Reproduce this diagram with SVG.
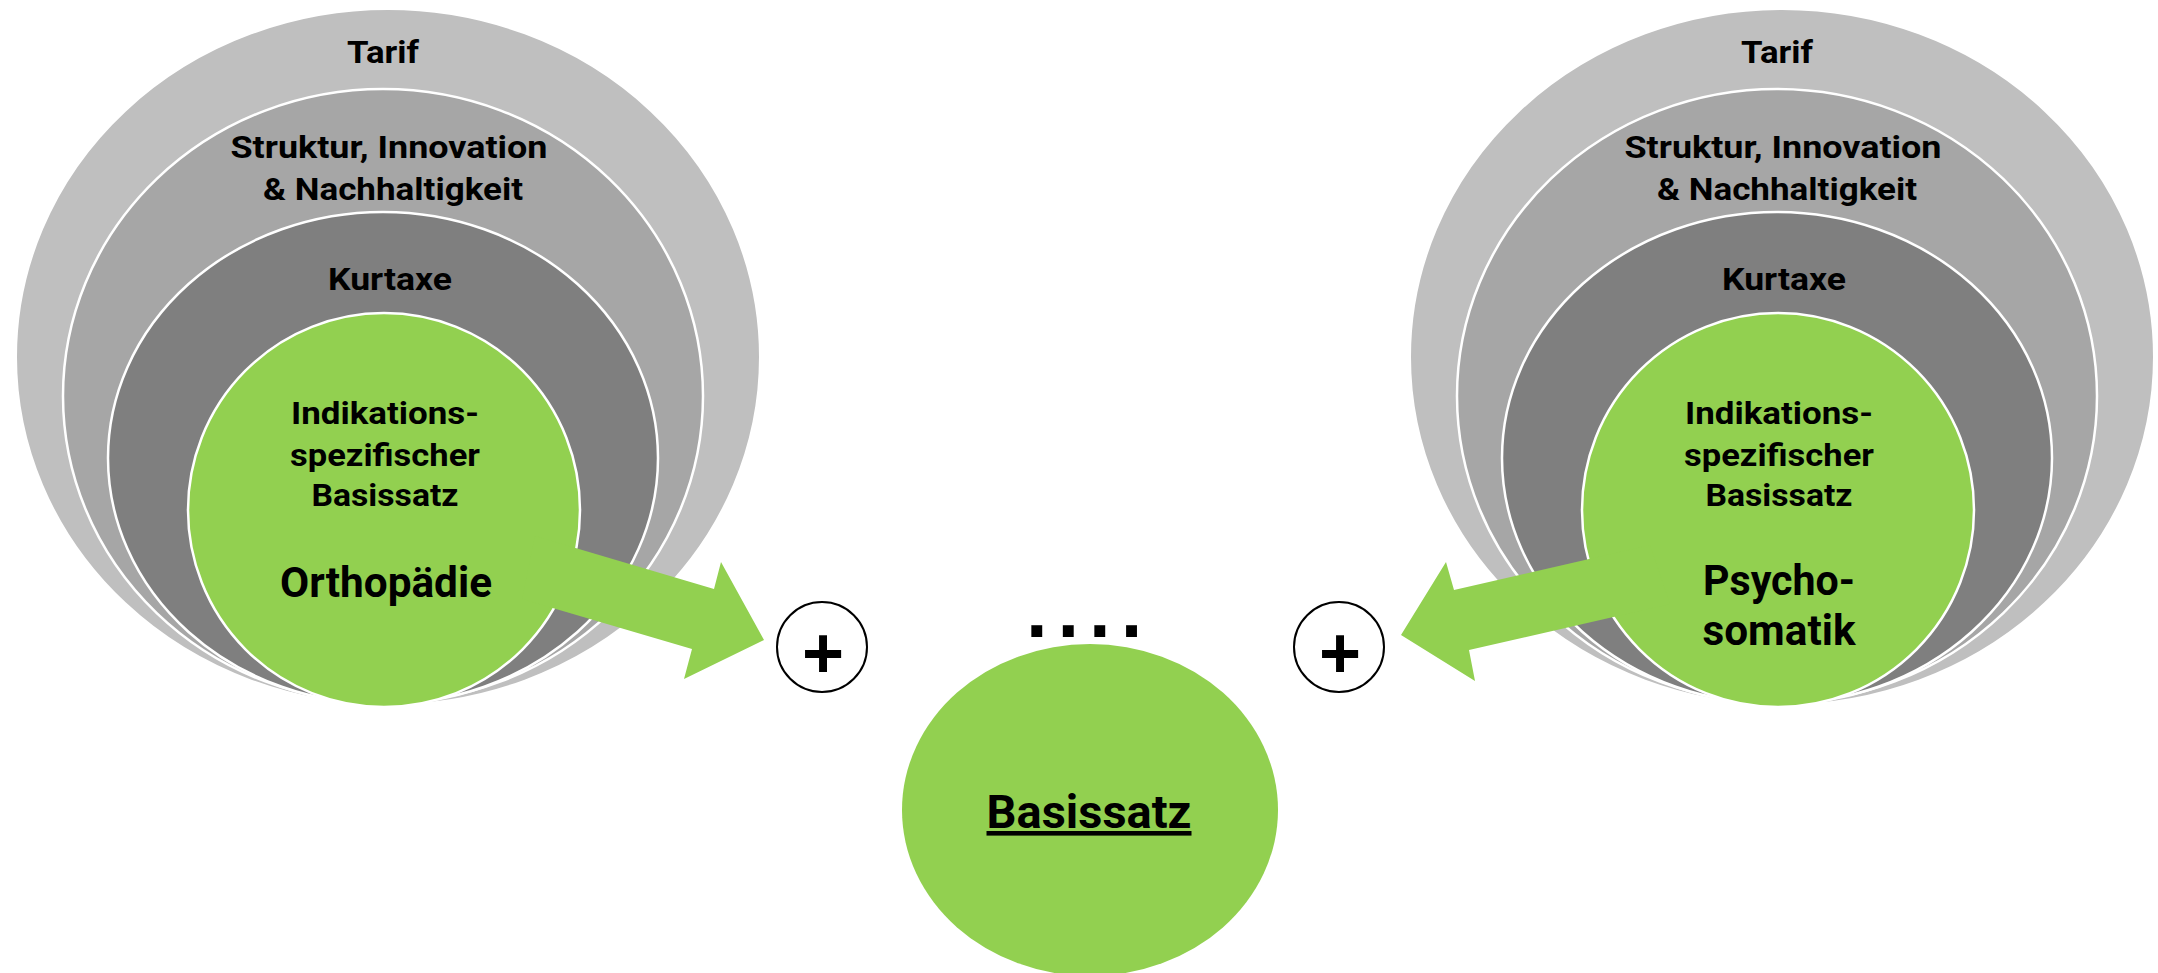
<svg xmlns="http://www.w3.org/2000/svg" width="2158" height="973" viewBox="0 0 2158 973">
<style>
.l1{fill:#BFBFBF;stroke:#FFFFFF;stroke-width:2}
.l2{fill:#A6A6A6;stroke:#FFFFFF;stroke-width:2.5}
.l3{fill:#7F7F7F;stroke:#FFFFFF;stroke-width:2.5}
.g{fill:#92D050;stroke:#FFFFFF;stroke-width:2.5}
.gb{fill:#92D050}
.t{font-family:Roboto,"Liberation Sans",sans-serif;font-weight:bold;fill:#000;text-anchor:middle;font-size:32px}
.tb{font-family:Roboto,"Liberation Sans",sans-serif;font-weight:bold;fill:#000;text-anchor:middle;font-size:42px}
.plus{font-family:"Liberation Sans",Arial,sans-serif;font-weight:bold;fill:#000;text-anchor:middle;font-size:72px}
.pc{fill:#FFFFFF;stroke:#000;stroke-width:2}
.arrow{fill:#92D050}
</style>
<rect width="2158" height="973" fill="#FFFFFF"/>
<g id="left-stack">
  <ellipse class="l1" cx="388" cy="357" rx="372" ry="348"/>
  <ellipse class="l2" cx="383" cy="396" rx="320" ry="307"/>
  <ellipse class="l3" cx="383" cy="458" rx="275" ry="246"/>
  <ellipse class="g" cx="384" cy="510" rx="196" ry="197"/>
  <text class="t" x="383" y="63" textLength="72" lengthAdjust="spacingAndGlyphs">Tarif</text>
  <text class="t" x="389" y="158" textLength="317" lengthAdjust="spacingAndGlyphs">Struktur, Innovation</text>
  <text class="t" x="393" y="200" textLength="260" lengthAdjust="spacingAndGlyphs">&amp; Nachhaltigkeit</text>
  <text class="t" x="390" y="290" textLength="124" lengthAdjust="spacingAndGlyphs">Kurtaxe</text>
  <text class="t" x="385" y="424" textLength="188" lengthAdjust="spacingAndGlyphs">Indikations-</text>
  <text class="t" x="385" y="466" textLength="190" lengthAdjust="spacingAndGlyphs">spezifischer</text>
  <text class="t" x="385" y="506" textLength="147" lengthAdjust="spacingAndGlyphs">Basissatz</text>
  <text class="tb" x="386" y="597" textLength="212" lengthAdjust="spacingAndGlyphs">Orthopädie</text>
</g>
<g id="right-stack">
  <ellipse class="l1" cx="1782" cy="357" rx="372" ry="348"/>
  <ellipse class="l2" cx="1777" cy="396" rx="320" ry="307"/>
  <ellipse class="l3" cx="1777" cy="458" rx="275" ry="246"/>
  <ellipse class="g" cx="1778" cy="510" rx="196" ry="197"/>
  <text class="t" x="1777" y="63" textLength="72" lengthAdjust="spacingAndGlyphs">Tarif</text>
  <text class="t" x="1783" y="158" textLength="317" lengthAdjust="spacingAndGlyphs">Struktur, Innovation</text>
  <text class="t" x="1787" y="200" textLength="260" lengthAdjust="spacingAndGlyphs">&amp; Nachhaltigkeit</text>
  <text class="t" x="1784" y="290" textLength="124" lengthAdjust="spacingAndGlyphs">Kurtaxe</text>
  <text class="t" x="1779" y="424" textLength="188" lengthAdjust="spacingAndGlyphs">Indikations-</text>
  <text class="t" x="1779" y="466" textLength="190" lengthAdjust="spacingAndGlyphs">spezifischer</text>
  <text class="t" x="1779" y="506" textLength="147" lengthAdjust="spacingAndGlyphs">Basissatz</text>
  <text class="tb" x="1779" y="595" textLength="152" lengthAdjust="spacingAndGlyphs">Psycho-</text>
  <text class="tb" x="1779" y="645" textLength="153" lengthAdjust="spacingAndGlyphs">somatik</text>
</g>
<g id="basissatz">
  <ellipse class="gb" cx="1090" cy="810" rx="188" ry="166"/>
  <text x="1089" y="828" font-family="Roboto, 'Liberation Sans', sans-serif" font-weight="bold" font-size="46" text-anchor="middle" text-decoration="underline" textLength="205" lengthAdjust="spacingAndGlyphs">Basissatz</text>
</g>
<g id="dots">
  <text x="1025" y="637" font-family="'DejaVu Sans', sans-serif" font-weight="bold" font-size="62" letter-spacing="8">....</text>
</g>
<g id="plus-left">
  <ellipse class="pc" cx="822" cy="647" rx="45" ry="45"/>
  <text class="plus" x="823" y="678">+</text>
</g>
<g id="plus-right">
  <ellipse class="pc" cx="1339" cy="647" rx="45" ry="45"/>
  <text class="plus" x="1340" y="678">+</text>
</g>
<g id="connectors">
  <polygon class="arrow" points="535,536 714,589 721,562 764,640 684,679 692,649 522,599"/>
  <polygon class="arrow" points="1401,635 1446,562 1454,590 1650,545 1670,604 1469,650 1475,681"/>
</g>
</svg>
